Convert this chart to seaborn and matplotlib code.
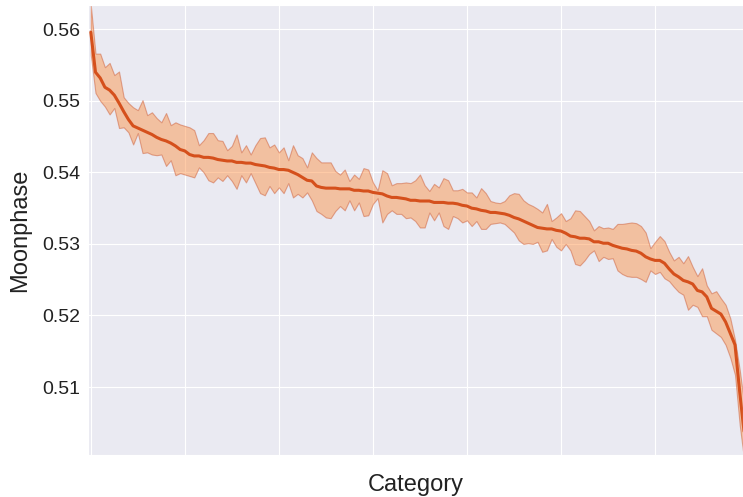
import matplotlib
matplotlib.use("Agg")
import matplotlib.pyplot as plt
import seaborn as sns
import numpy as np
import pandas as pd

# mean moonphase per category, sorted descending
mean_values = [
    0.5596, 0.5540, 0.5532, 0.5519, 0.5515, 0.5508, 0.5497, 0.5485, 0.5474, 0.5465,
    0.5462, 0.5459, 0.5456, 0.5453, 0.5449, 0.5446, 0.5444, 0.5441, 0.5437, 0.5432,
    0.5430, 0.5425, 0.5423, 0.5423, 0.5421, 0.5421, 0.5420, 0.5418, 0.5417, 0.5416,
    0.5416, 0.5414, 0.5414, 0.5413, 0.5413, 0.5411, 0.5410, 0.5409, 0.5407, 0.5406,
    0.5404, 0.5404, 0.5403, 0.5400, 0.5397, 0.5393, 0.5389, 0.5388, 0.5381, 0.5379,
    0.5378, 0.5378, 0.5378, 0.5377, 0.5377, 0.5377, 0.5375, 0.5375, 0.5374, 0.5374,
    0.5372, 0.5371, 0.5370, 0.5367, 0.5365, 0.5365, 0.5364, 0.5363, 0.5361, 0.5361,
    0.5360, 0.5360, 0.5360, 0.5358, 0.5358, 0.5358, 0.5357, 0.5357, 0.5356, 0.5354,
    0.5353, 0.5350, 0.5349, 0.5347, 0.5346, 0.5344, 0.5344, 0.5343, 0.5342, 0.5340,
    0.5337, 0.5335, 0.5332, 0.5329, 0.5326, 0.5323, 0.5322, 0.5321, 0.5321, 0.5319,
    0.5318, 0.5315, 0.5311, 0.5310, 0.5308, 0.5308, 0.5307, 0.5303, 0.5303, 0.5301,
    0.5301, 0.5298, 0.5296, 0.5294, 0.5293, 0.5291, 0.5290, 0.5287, 0.5282, 0.5279,
    0.5277, 0.5277, 0.5273, 0.5265, 0.5258, 0.5254, 0.5249, 0.5247, 0.5244, 0.5235,
    0.5233, 0.5226, 0.5210, 0.5206, 0.5202, 0.5191, 0.5175, 0.5159, 0.5093, 0.5033,
]

upper_values = [
    0.5634, 0.5566, 0.5566, 0.5547, 0.5553, 0.5536, 0.5541, 0.5505, 0.5497, 0.5491,
    0.5487, 0.5501, 0.5480, 0.5484, 0.5476, 0.5470, 0.5483, 0.5466, 0.5470, 0.5467,
    0.5465, 0.5463, 0.5459, 0.5438, 0.5445, 0.5455, 0.5455, 0.5445, 0.5444, 0.5431,
    0.5437, 0.5453, 0.5428, 0.5438, 0.5425, 0.5438, 0.5448, 0.5449, 0.5435, 0.5439,
    0.5428, 0.5435, 0.5417, 0.5438, 0.5424, 0.5420, 0.5407, 0.5428, 0.5420, 0.5414,
    0.5414, 0.5414, 0.5402, 0.5397, 0.5404, 0.5388, 0.5397, 0.5391, 0.5406, 0.5404,
    0.5386, 0.5375, 0.5403, 0.5399, 0.5382, 0.5385, 0.5385, 0.5386, 0.5385, 0.5389,
    0.5397, 0.5382, 0.5374, 0.5384, 0.5379, 0.5392, 0.5389, 0.5375, 0.5375, 0.5377,
    0.5372, 0.5372, 0.5365, 0.5378, 0.5371, 0.5360, 0.5358, 0.5357, 0.5360, 0.5368,
    0.5371, 0.5370, 0.5361, 0.5356, 0.5353, 0.5349, 0.5344, 0.5356, 0.5332, 0.5337,
    0.5343, 0.5332, 0.5336, 0.5347, 0.5346, 0.5339, 0.5332, 0.5319, 0.5325, 0.5322,
    0.5323, 0.5321, 0.5328, 0.5328, 0.5329, 0.5330, 0.5329, 0.5325, 0.5316, 0.5294,
    0.5303, 0.5311, 0.5304, 0.5289, 0.5277, 0.5282, 0.5273, 0.5283, 0.5268, 0.5255,
    0.5266, 0.5242, 0.5231, 0.5234, 0.5224, 0.5215, 0.5196, 0.5166, 0.5124, 0.5075,
]

lower_values = [
    0.5564, 0.5511, 0.5500, 0.5492, 0.5481, 0.5490, 0.5462, 0.5463, 0.5456, 0.5439,
    0.5455, 0.5427, 0.5428, 0.5425, 0.5424, 0.5425, 0.5409, 0.5417, 0.5396, 0.5399,
    0.5397, 0.5395, 0.5393, 0.5407, 0.5400, 0.5389, 0.5386, 0.5393, 0.5388, 0.5396,
    0.5388, 0.5377, 0.5396, 0.5386, 0.5399, 0.5385, 0.5371, 0.5368, 0.5381, 0.5371,
    0.5379, 0.5371, 0.5385, 0.5365, 0.5370, 0.5365, 0.5372, 0.5361, 0.5346, 0.5342,
    0.5337, 0.5336, 0.5346, 0.5353, 0.5347, 0.5361, 0.5347, 0.5358, 0.5339, 0.5340,
    0.5356, 0.5364, 0.5330, 0.5342, 0.5347, 0.5342, 0.5342, 0.5336, 0.5337, 0.5332,
    0.5323, 0.5323, 0.5344, 0.5333, 0.5344, 0.5325, 0.5321, 0.5339, 0.5336, 0.5330,
    0.5333, 0.5325, 0.5332, 0.5321, 0.5321, 0.5328, 0.5329, 0.5330, 0.5328, 0.5322,
    0.5316, 0.5305, 0.5300, 0.5301, 0.5300, 0.5303, 0.5289, 0.5291, 0.5307, 0.5296,
    0.5291, 0.5300, 0.5291, 0.5272, 0.5270, 0.5277, 0.5286, 0.5291, 0.5276, 0.5282,
    0.5279, 0.5280, 0.5263, 0.5258, 0.5255, 0.5254, 0.5254, 0.5251, 0.5247, 0.5263,
    0.5258, 0.5261, 0.5252, 0.5248, 0.5240, 0.5233, 0.5229, 0.5208, 0.5215, 0.5212,
    0.5199, 0.5199, 0.5180, 0.5175, 0.5170, 0.5159, 0.5141, 0.5117, 0.5047, 0.4995,
]

x_ticks = [0, 20, 40, 60, 80, 100, 120]
y_ticks = [0.51, 0.52, 0.53, 0.54, 0.55, 0.56]

line_color = "#d5501c"
band_color = "#fd8d3c"

sns.set_style("darkgrid")
plt.rcParams["font.family"] = ["Liberation Sans", "DejaVu Sans"]

df = pd.DataFrame({
    "category": np.arange(len(mean_values)),
    "moonphase": mean_values,
    "upper": upper_values,
    "lower": lower_values,
})

fig = plt.figure(figsize=(7.43, 4.97), dpi=100)
ax = fig.add_axes([0.1184, 0.0845, 0.8816, 0.9055])

ax.fill_between(df["category"], df["lower"], df["upper"],
                facecolor=band_color, edgecolor="#c8502a",
                alpha=0.45, linewidth=0.8)
sns.lineplot(data=df, x="category", y="moonphase", ax=ax,
             color=line_color, linewidth=2.2)

ax.set_xlim(-0.6, 138.7)
ax.set_ylim(0.5005, 0.5634)
ax.set_xticks(x_ticks)
ax.set_yticks(y_ticks)
ax.set_yticklabels([f"{v:.2f}" for v in y_ticks])
ax.tick_params(axis="x", labelbottom=False, length=2, width=0.8,
               color="#555555", direction="out")
ax.tick_params(axis="y", labelsize=14, length=2, width=0.8,
               color="#555555", colors="#222222")
ax.tick_params(axis="y", labelcolor="#222222")
ax.set_xlabel("Category", fontsize=17, color="#222222", labelpad=14)
ax.set_ylabel("Moonphase", fontsize=17, color="#222222", labelpad=8)

fig.savefig("out.png", dpi=100)
